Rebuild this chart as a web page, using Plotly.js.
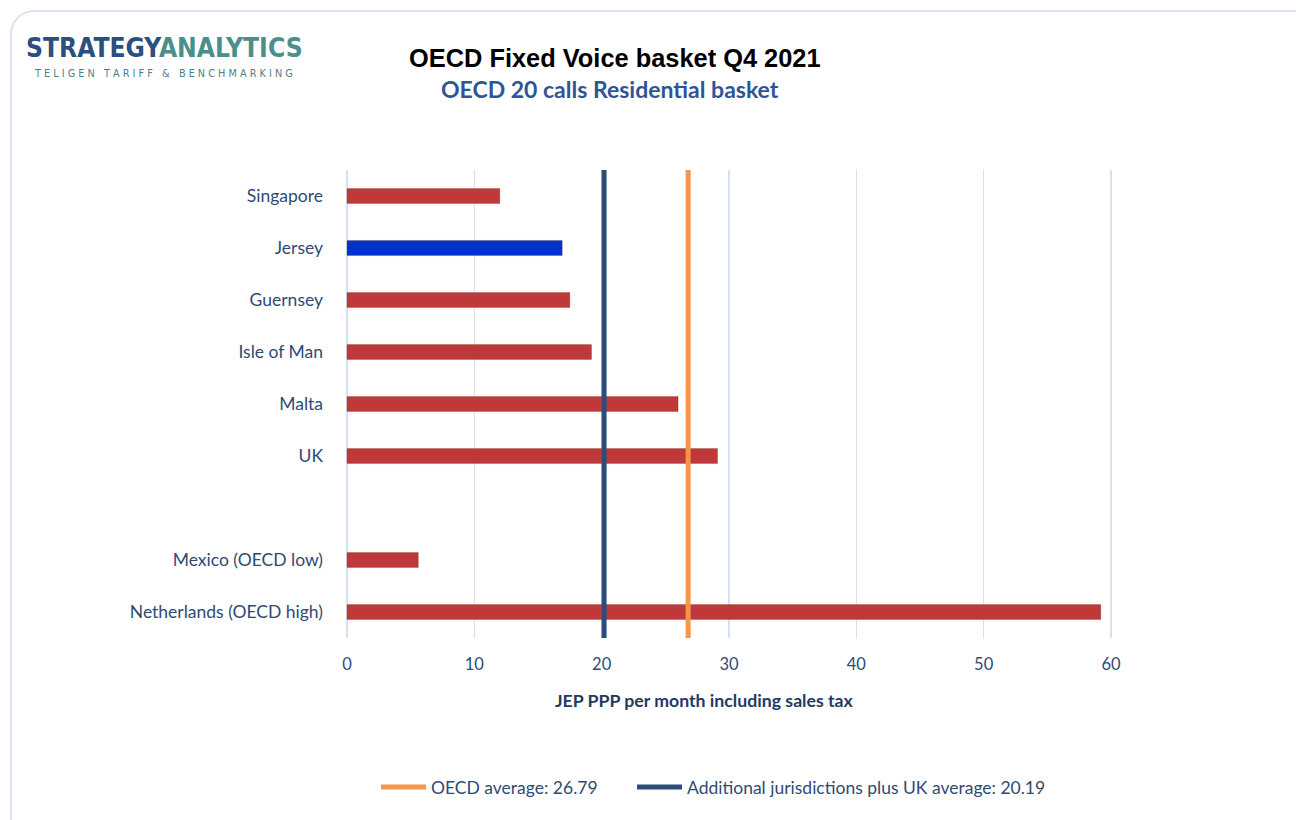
<!DOCTYPE html>
<html>
<head>
<meta charset="utf-8">
<script src="https://cdn.plot.ly/plotly-3.0.1.min.js"></script>
<style>
  html, body { margin: 0; padding: 0; background: #ffffff; overflow: hidden; }
  #wrap { position: relative; width: 1296px; height: 820px; }
  #chart { width: 1296px; height: 820px; }
  #frame { position: absolute; left: 10px; top: 10px; width: 1320px; height: 840px;
           border: 2px solid #d9e4f3; border-radius: 24px; pointer-events: none; box-sizing: border-box; }
</style>
</head>
<body>
<div id="wrap">
  <div id="chart"></div>
  <div id="frame"></div>
</div>
<script>
// ---- data ----
const countries = ["Singapore", "Jersey", "Guernsey", "Isle of Man", "Malta", "UK", " ", "Mexico (OECD low)", "Netherlands (OECD high)"];
const values = [12.0, 16.9, 17.5, 19.2, 26.0, 29.1, null, 5.6, 59.2];
const barColors = ["#c0393a", "#0033cc", "#c0393a", "#c0393a", "#c0393a", "#c0393a", "#c0393a", "#c0393a", "#c0393a"];
const oecdAverage = 26.79;
const additionalAverage = 20.19;
const xTicks = [0, 10, 20, 30, 40, 50, 60];

const tickColor = "#2f4a75";
const font = "Lato, 'Open Sans', sans-serif";

// plot area geometry (pixels)
const L = 346, R = 1112, T = 170, B = 638;
const px = (x) => (x - L) / (R - L);
const py = (y) => (B - y) / (B - T);

const traces = [
  {
    type: "bar", orientation: "h",
    y: countries, x: values,
    width: 0.29,
    marker: { color: barColors, line: { color: "rgba(120,30,30,0.25)", width: 1 } },
    showlegend: false, hoverinfo: "x+y"
  },
  {
    type: "scatter", mode: "lines", name: "OECD average: " + oecdAverage.toFixed(2),
    x: [oecdAverage, oecdAverage], y: [0, 1], yaxis: "y2",
    line: { color: "#f79646", width: 5 }, legendwidth: 196
  },
  {
    type: "scatter", mode: "lines", name: "Additional jurisdictions plus UK average: " + additionalAverage.toFixed(2),
    x: [additionalAverage, additionalAverage], y: [0, 1], yaxis: "y2",
    line: { color: "#2c4d7a", width: 5 }
  }
];

const layout = {
  width: 1296, height: 820,
  paper_bgcolor: "rgba(0,0,0,0)", plot_bgcolor: "rgba(0,0,0,0)",
  margin: { l: L, r: 1296 - R, t: T, b: 820 - B },
  font: { family: font, color: tickColor, size: 16 },
  xaxis: {
    range: [-0.08, 60.08], tickvals: xTicks, ticktext: xTicks.map(String),
    showgrid: true, gridcolor: "#d6e1f0", gridwidth: 1.5,
    zeroline: false, showline: false,
    ticks: "", ticklabelstandoff: 14,
    tickfont: { family: font, size: 16.5, color: tickColor }
  },
  yaxis: {
    type: "category", categoryorder: "array", categoryarray: countries,
    autorange: "reversed", showgrid: false, zeroline: false, showline: false,
    ticks: "", ticklabelstandoff: 22,
    tickfont: { family: font, size: 17.5, color: tickColor }
  },
  yaxis2: { overlaying: "y", range: [0, 1], visible: false, fixedrange: true },
  showlegend: true,
  legend: {
    orientation: "h", x: px(376), xanchor: "left", y: py(787), yanchor: "middle",
    font: { family: font, size: 17.5, color: tickColor },
    itemwidth: 45, tracegroupgap: 0
  },
  annotations: [
    { text: "<b>OECD Fixed Voice basket Q4 2021</b>", xref: "paper", yref: "paper",
      x: px(615), y: py(58), xanchor: "center", yanchor: "middle", showarrow: false,
      font: { family: "'Liberation Sans', Arial, sans-serif", size: 25.4, color: "#000000" } },
    { text: "<b>OECD 20 calls Residential basket</b>", xref: "paper", yref: "paper",
      x: px(610), y: py(89), xanchor: "center", yanchor: "middle", showarrow: false,
      font: { family: font, size: 23, color: "#2f5597" } },
    { text: "<b>JEP PPP per month including sales tax</b>", xref: "paper", yref: "paper",
      x: px(704), y: py(700), xanchor: "center", yanchor: "middle", showarrow: false,
      font: { family: font, size: 17.7, color: "#1f3a63" } },
    { text: "<b><span style='color:#2a4f80'>STRATEGY</span><span style='color:#4b8f8c'>ANALYTICS</span></b>", xref: "paper", yref: "paper",
      x: px(24), y: py(48), xanchor: "left", yanchor: "middle", showarrow: false,
      font: { family: "'DejaVu Sans Condensed', sans-serif", size: 26.2 } },
    { text: "T E L I G E N   T A R I F F   &amp;   B E N C H M A R K I N G", xref: "paper", yref: "paper",
      x: px(32), y: py(73), xanchor: "left", yanchor: "middle", showarrow: false,
      font: { family: "'DejaVu Sans Condensed', 'DejaVu Sans', sans-serif", size: 10.8, color: "#4f7f86" } }
  ]
};

function stretchLegendLines() {
  // lengthen the legend line samples so they reach the legend text, as in the reference
  document.querySelectorAll("#chart .legend .legendpoints path").forEach(function (p) {
    const d = p.getAttribute("d") || "";
    if (/^M5,0h30/.test(d) || /^M5,0h45/.test(d)) p.setAttribute("d", "M5,0h45");
  });
}

Plotly.newPlot("chart", traces, layout, { displayModeBar: false, staticPlot: true }).then(function () {
  stretchLegendLines();
  setTimeout(stretchLegendLines, 30);
});
</script>
</body>
</html>
